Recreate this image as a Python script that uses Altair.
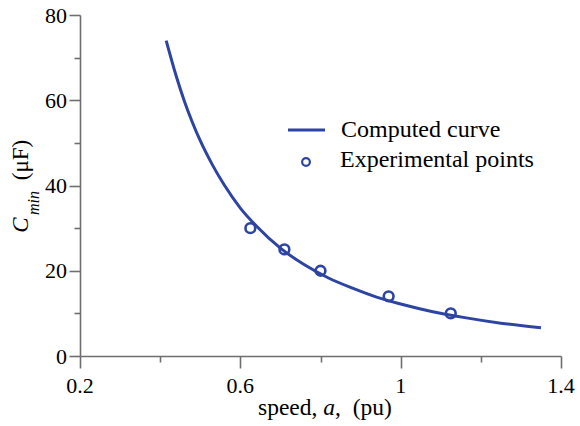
import altair as alt
import pandas as pd

# Computed curve
curve_a = [0.415, 0.44, 0.46, 0.48, 0.50, 0.53, 0.56, 0.60, 0.64, 0.70, 0.76,
           0.82, 0.88, 0.94, 1.00, 1.08, 1.16, 1.25, 1.35]
curve_c = [74.0, 65.7, 59.9, 54.9, 50.5, 44.9, 40.1, 34.7, 30.5, 25.3, 21.4,
           18.3, 15.9, 13.8, 12.2, 10.4, 9.0, 7.7, 6.6]

# Experimental points
exp_a = [0.625, 0.71, 0.80, 0.97, 1.125]
exp_c = [30.0, 25.0, 20.0, 14.0, 10.0]

x_ticks = [0.2, 0.4, 0.6, 0.8, 1.0, 1.2, 1.4]
y_ticks = [0, 10, 20, 30, 40, 50, 60, 70, 80]
x_label_vals = [0.2, 0.6, 1.0, 1.4]
x_label_text = ["0.2", "0.6", "1", "1.4"]
y_label_vals = [0, 20, 40, 60, 80]
y_label_text = ["0", "20", "40", "60", "80"]
legend_labels = ["Computed curve", "Experimental points"]

BLUE = "#2d44a2"
GREY = "#6e6e6e"
FONT = "Liberation Serif"

curve_df = pd.DataFrame({"a": curve_a, "c": curve_c})
exp_df = pd.DataFrame({"a": exp_a, "c": exp_c})
xlab_df = pd.DataFrame({"a": x_label_vals, "t": x_label_text})
ylab_df = pd.DataFrame({"c": y_label_vals, "t": y_label_text})

xscale = alt.Scale(domain=[0.2, 1.4], nice=False, zero=False)
yscale = alt.Scale(domain=[0, 80], nice=False)

x_major = "abs((datum.value*10) % 4 - 2) < 0.01"
y_major = "datum.value % 20 === 0"

xaxis = alt.Axis(
    values=x_ticks, title=None, grid=False, labels=False,
    tickSize={"condition": {"test": x_major, "value": 12}, "value": 6},
    domainColor=GREY, tickColor=GREY, domainWidth=1.6, tickWidth=1.6,
)
yaxis = alt.Axis(
    values=y_ticks, title=None, grid=False, labels=False,
    tickSize={"condition": {"test": y_major, "value": 11}, "value": 6},
    domainColor=GREY, tickColor=GREY, domainWidth=1.6, tickWidth=1.6,
)

line = alt.Chart(curve_df).mark_line(
    color=BLUE, strokeWidth=3, interpolate="monotone"
).encode(
    x=alt.X("a:Q", scale=xscale, axis=xaxis),
    y=alt.Y("c:Q", scale=yscale, axis=yaxis),
)

pts = alt.Chart(exp_df).mark_point(
    shape="circle", filled=False, size=95, strokeWidth=2.6, color=BLUE, opacity=1
).encode(x="a:Q", y="c:Q")

# tick labels drawn as text through the scales
xlabels = alt.Chart(xlab_df).mark_text(
    font=FONT, fontSize=22, align="center", baseline="alphabetic", color="black"
).encode(x="a:Q", y=alt.value(378), text="t:N")
ylabels = alt.Chart(ylab_df).mark_text(
    font=FONT, fontSize=22, align="right", baseline="alphabetic", color="black", dy=7.5
).encode(x=alt.value(-13), y="c:Q", text="t:N")

one = pd.DataFrame({"k": [0]})

leg_line = alt.Chart(one).mark_rule(color=BLUE, strokeWidth=3).encode(
    x=alt.value(208), x2=alt.value(245), y=alt.value(115)
)
leg_pt = alt.Chart(one).mark_point(
    shape="circle", filled=False, size=60, strokeWidth=2.2, color=BLUE, opacity=1
).encode(x=alt.value(226), y=alt.value(147))

leg_t1 = alt.Chart(pd.DataFrame({"t": [legend_labels[0]]})).mark_text(
    font=FONT, fontSize=24, align="left", baseline="alphabetic", color="black"
).encode(x=alt.value(261), y=alt.value(122), text="t:N")
leg_t2 = alt.Chart(pd.DataFrame({"t": [legend_labels[1]]})).mark_text(
    font=FONT, fontSize=24, align="left", baseline="alphabetic", color="black"
).encode(x=alt.value(260), y=alt.value(152), text="t:N")

# x-axis title: "speed, a,  (pu)" with italic a
XT_FS = 23.5
x0 = 178
xt1 = alt.Chart(one).mark_text(
    text="speed,", font=FONT, fontSize=XT_FS, align="left", baseline="alphabetic", color="black"
).encode(x=alt.value(x0), y=alt.value(400))
xt2 = alt.Chart(one).mark_text(
    text="a", font=FONT, fontSize=XT_FS, fontStyle="italic", align="left",
    baseline="alphabetic", color="black"
).encode(x=alt.value(x0 + 2.777 * XT_FS), y=alt.value(400))
xt3 = alt.Chart(one).mark_text(
    text=",\u00a0\u00a0(pu)", font=FONT, fontSize=XT_FS, align="left", baseline="alphabetic", color="black"
).encode(x=alt.value(x0 + 3.277 * XT_FS), y=alt.value(400))

# y-axis title: C_min  (μF)
yt1 = alt.Chart(one).mark_text(
    text="C", font=FONT, fontSize=23, fontStyle="italic", angle=270,
    align="center", baseline="alphabetic", color="black"
).encode(x=alt.value(-52), y=alt.value(210))
yt2 = alt.Chart(one).mark_text(
    text="min", font=FONT, fontSize=16, fontStyle="italic", angle=270,
    align="center", baseline="alphabetic", color="black"
).encode(x=alt.value(-41), y=alt.value(188))
yt3 = alt.Chart(one).mark_text(
    text="(μF)", font=FONT, fontSize=23, angle=270,
    align="center", baseline="alphabetic", color="black"
).encode(x=alt.value(-52), y=alt.value(145))

chart = alt.layer(
    line, pts, xlabels, ylabels, leg_line, leg_pt, leg_t1, leg_t2,
    xt1, xt2, xt3, yt1, yt2, yt3
).properties(
    width=481, height=341,
    padding={"left": 80, "top": 15, "right": 19, "bottom": 70},
    autosize=alt.AutoSizeParams(type="none"),
    background="white",
).configure_view(stroke=None)

chart.save("out.html", embed_options={"renderer": "svg", "actions": False})
